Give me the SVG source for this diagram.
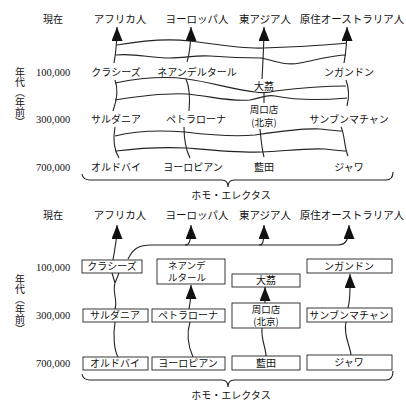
<svg xmlns="http://www.w3.org/2000/svg" width="406" height="403" viewBox="0 0 406 403">
<style>
text{font-family:"Noto Sans CJK JP","Noto Sans CJK SC",sans-serif;font-size:10px;fill:#111}
.num{font-family:"Liberation Serif",serif;font-size:10.5px}
.h{font-size:10.5px;text-anchor:middle}
.c{text-anchor:middle}
.s{font-size:9.5px}
.vt{writing-mode:vertical-rl;font-size:10px}
.ln{fill:none;stroke:#222;stroke-width:1.1}
.bx{fill:#fff;stroke:#222;stroke-width:0.9}
</style>
<defs>
<marker id="ah" viewBox="0 0 14 11" refX="14" refY="5.5" markerWidth="14" markerHeight="11" markerUnits="userSpaceOnUse" orient="auto">
<path d="M0,0 L14,5.5 L0,11 z" fill="#111"/>
</marker>
</defs>

<!-- ============ TOP DIAGRAM ============ -->
<g id="top-labels">
<text x="53" y="23" class="c">現在</text>
<text x="120" y="23" class="h">アフリカ人</text>
<text x="197" y="23" class="h">ヨーロッパ人</text>
<text x="265" y="23" class="h">東アジア人</text>
<text x="352" y="23" class="h">原住オーストラリア人</text>
<text x="20" y="67" class="vt">年代（年前）</text>
<text x="36" y="76" class="num">100,000</text>
<text x="36" y="123" class="num">300,000</text>
<text x="36" y="171" class="num">700,000</text>
</g>
<g id="top-nodes">
<g id="t-kurashizu"><text x="116" y="76" class="c">クラシーズ</text></g>
<g id="t-neanderthal"><text x="197" y="76" class="c">ネアンデルタール</text></g>
<g id="t-dali"><text x="264" y="90" class="c">大茘</text></g>
<g id="t-ngandong"><text x="349" y="76" class="c">ンガンドン</text></g>
<g id="t-saldania"><text x="116" y="123" class="c">サルダニア</text></g>
<g id="t-petralona"><text x="196" y="123" class="c">ペトラローナ</text></g>
<g id="t-zhoukoudian"><text x="264" y="113" class="c s">周口店</text><text x="264" y="125.5" class="c s">(北京)</text></g>
<g id="t-sambung"><text x="349" y="123" class="c">サンブンマチャン</text></g>
<g id="t-olduvai"><text x="116" y="171" class="c">オルドバイ</text></g>
<g id="t-european"><text x="193" y="171" class="c">ヨーロピアン</text></g>
<g id="t-lantian"><text x="264" y="171" class="c">藍田</text></g>
<g id="t-java"><text x="349" y="171" class="c">ジャワ</text></g>
<g id="t-homo"><text x="231" y="199" class="c">ホモ・エレクタス</text></g>
</g>
<g id="top-connectors">
<path class="ln" d="M114,63 C116,52 117,45 117,27" marker-end="url(#ah)"/>
<path class="ln" d="M187,62 C190,52 191,45 191,27" marker-end="url(#ah)"/>
<path class="ln" d="M262,79 C263,60 264,45 264,27" marker-end="url(#ah)"/>
<path class="ln" d="M344,63 C346,52 347,45 347,27" marker-end="url(#ah)"/>
<path class="ln" d="M115,80 C118,88 117,100 113,111"/>
<path class="ln" d="M186,79 C190,88 190,100 189,111"/>
<path class="ln" d="M264,93 L264,103"/>
<path class="ln" d="M346,80 C349,88 349,98 347,106"/>
<path class="ln" d="M115,127 C113,138 114,150 119,158"/>
<path class="ln" d="M184,127 C184,140 186,150 190,158"/>
<path class="ln" d="M260,129 C261,140 262,150 264,157"/>
<path class="ln" d="M341,127 C345,135 344,147 348,156"/>
<path class="ln" d="M117,45 C140,41 165,38 190,41 C215,44 240,49 264,48 C290,47 320,46 347,43"/>
<path class="ln" d="M116,55 C135,53 150,58 170,58 C185,58 195,55 210,56 C235,58 250,58 262,58 C275,61 285,66 300,63 C320,59 335,55 346,55"/>
<path class="ln" d="M115,83 C140,78 165,76 187,79 C210,82 235,90 255,92 C262,93 268,93 275,91 C300,88 325,86 346,86"/>
<path class="ln" d="M115,100 C140,96 165,93 187,94 C210,96 230,102 250,100 C262,98 266,94 275,96 C300,101 325,100 347,98"/>
<path class="ln" d="M115,136 C135,131 160,130 185,132 C210,135 235,137 255,135 C275,132 300,128 320,129 C330,130 338,131 343,131"/>
<path class="ln" d="M116,151 C140,148 165,147 187,148 C210,150 240,153 262,152 C285,151 305,148 325,149 C335,150 342,151 346,151"/>
<path class="ln" d="M82,174 Q83,180 90,180 L222,180 Q228,180 228,187 Q228,180 234,180 L386,180 Q393,180 393,172"/>
</g>

<!-- ============ BOTTOM DIAGRAM ============ -->
<g id="bottom-labels">
<text x="53" y="219" class="c">現在</text>
<text x="120" y="219" class="h">アフリカ人</text>
<text x="197" y="219" class="h">ヨーロッパ人</text>
<text x="265" y="219" class="h">東アジア人</text>
<text x="352" y="219" class="h">原住オーストラリア人</text>
<text x="20" y="274" class="vt">年代（年前）</text>
<text x="36" y="271" class="num">100,000</text>
<text x="36" y="319" class="num">300,000</text>
<text x="36" y="367" class="num">700,000</text>
</g>
<g id="bottom-connectors">
<path class="ln" d="M113,260 C114,252 117,245 117,225" marker-end="url(#ah)"/>
<path class="ln" d="M128,259 C133,249 138,245 152,245 L338,245 C346,245 349,240 349,225" marker-end="url(#ah)"/>
<path class="ln" d="M185,245 C189,245 191,243 191,225" marker-end="url(#ah)"/>
<path class="ln" d="M259,245 C263,245 264,243 264,225" marker-end="url(#ah)"/>
<path class="ln" d="M115,309 C118,300 112,292 115,283 M115,283 L112,273 M115,283 L119,273"/>
<path class="ln" d="M189,309 C190,303 191,300 191,285" marker-end="url(#ah)"/>
<path class="ln" d="M190,322 C186,335 189,348 193,357"/>
<path class="ln" d="M115,322 C113,335 114,350 118,357"/>
<path class="ln" d="M265,303 L265,287" marker-end="url(#ah)"/>
<path class="ln" d="M262,328 C261,340 266,348 266,356"/>
<path class="ln" d="M348,308 C350,300 350,295 350,274" marker-end="url(#ah)"/>
<path class="ln" d="M346,322 C343,335 350,345 351,355"/>
<path class="ln" d="M82,374 Q83,380 90,380 L222,380 Q228,380 228,387 Q228,380 234,380 L386,380 Q393,380 393,371"/>
</g>
<g id="n-kurashizu"><rect class="bx" x="82" y="260" width="60" height="13"/><text x="112" y="270" class="c">クラシーズ</text></g>
<g id="n-neanderthal"><rect class="bx" x="157" y="259" width="68" height="25"/><text x="168" y="268.5" class="s">ネアンデ</text><text x="168" y="281" class="s">ルタール</text></g>
<g id="n-dali"><rect class="bx" x="232" y="274" width="68" height="13"/><text x="266" y="284" class="c">大茘</text></g>
<g id="n-ngandong"><rect class="bx" x="307" y="259" width="85" height="14"/><text x="349" y="270" class="c">ンガンドン</text></g>
<g id="n-saldania"><rect class="bx" x="83" y="309" width="65" height="13"/><text x="115" y="319" class="c">サルダニア</text></g>
<g id="n-petralona"><rect class="bx" x="152" y="309" width="73" height="13"/><text x="188" y="319" class="c">ペトラローナ</text></g>
<g id="n-zhoukoudian"><rect class="bx" x="232" y="303" width="68" height="25"/><text x="266" y="312.5" class="c s">周口店</text><text x="266" y="325" class="c s">(北京)</text></g>
<g id="n-sambung"><rect class="bx" x="307" y="308" width="85" height="14"/><text x="349" y="319" class="c">サンブンマチャン</text></g>
<g id="n-olduvai"><rect class="bx" x="83" y="357" width="65" height="13"/><text x="115" y="367" class="c">オルドバイ</text></g>
<g id="n-european"><rect class="bx" x="152" y="357" width="73" height="13"/><text x="188" y="367" class="c">ヨーロピアン</text></g>
<g id="n-lantian"><rect class="bx" x="232" y="356" width="68" height="14"/><text x="266" y="367" class="c">藍田</text></g>
<g id="n-java"><rect class="bx" x="307" y="355" width="85" height="15"/><text x="349" y="366" class="c">ジャワ</text></g>
<g id="n-homo"><text x="231" y="399" class="c">ホモ・エレクタス</text></g>
</svg>
